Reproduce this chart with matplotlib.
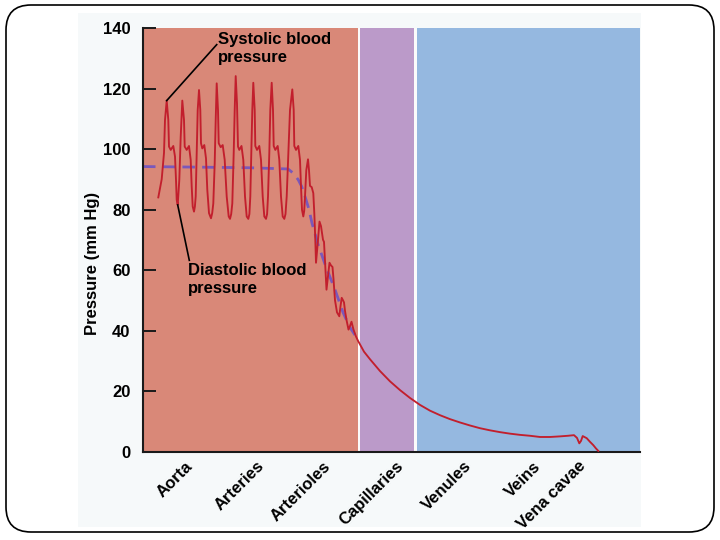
import matplotlib.pyplot as plt
from matplotlib.patches import FancyBboxPatch, Rectangle

plt.rcParams['font.family'] = ['Liberation Sans', 'DejaVu Sans']
plt.rcParams['font.weight'] = 'bold'

# Data
vessels = ['Aorta', 'Arteries', 'Arterioles', 'Capillaries', 'Venules', 'Veins', 'Vena cavae']
vessel_pos = [42, 113, 180, 253, 321, 390, 435]

# background zones along the vessel path (start, end)
zone_bounds = [(0, 215), (217, 271), (274, 497)]
zone_colors = ['#d98878', '#bb9ac9', '#95b8e0']

# pressure trace (mm Hg) along the path
trace_x = [15.3, 18.7, 21, 22, 23.7, 25.3, 26, 27.7, 30.3, 32, 33, 33.7, 34.7,
           36.3, 37.7, 39.3, 41, 41.7, 43.7, 46, 47.7, 48.7, 49.7, 51, 51.9,
           52.7, 53.7, 54.7, 56, 57.3, 58, 59.3, 61.3, 63, 64.3, 66, 68, 69.2,
           70.3, 71.7, 72.7, 73.7, 75, 75.7, 77.7, 79.7, 81.7, 83.7, 85.7, 87, 88.2,
           89.3, 90.7, 91.7, 92.7, 94, 95, 96.3, 98.5, 100.3, 102, 103.7, 105.3, 106.4,
           107.3, 108.3, 109.3, 110.3, 111.7, 112.3, 114, 116.3, 118, 119.7, 121.3, 123, 124.1,
           125, 126.3, 127.3, 128.7, 130, 130.7, 132.3, 134.7, 136.3, 138, 139.7, 141.3, 142.5,
           143.7, 145.3, 147, 149.3, 150.7, 151.3, 153, 155.3, 157, 158, 159, 160.3, 161.2,
           162, 163.3, 165, 166, 167, 168.7, 170.3, 171.3, 172.3, 173,
           174.5, 176.5, 178, 180, 181, 182, 183.5, 185, 186.5, 188, 189.5, 190.5,
           192, 194, 196.3, 197.5, 198.7, 200, 201, 202, 203.5, 205.5, 207, 208.5,
           210.5, 213,
           215, 221, 227, 237, 247, 257, 267, 277, 287, 297, 307, 317, 327, 337,
           347, 357, 367, 377, 387, 397, 407, 417, 425, 431, 434, 436.3, 438,
           439.7, 441.5, 443.7, 447, 450.3, 453, 455.3]
trace_y = [84, 90, 98.7, 109.6, 116, 109.6, 100.8, 99.7, 101, 97.5, 89.8, 83.2, 81.5,
           89.8, 104, 116, 109.6, 100.8, 99.7, 101, 96.4, 87.6, 81, 79.3, 81,
           84.3, 98.7, 112.9, 119.5, 112.9, 101.9, 100.2, 101.3, 96.9, 86.5, 78.8, 77.1, 78.8,
           82, 95.3, 109.6, 121.7, 112.9, 101.9, 100.6, 101.3, 96.4, 84.3, 77.7, 76.9, 78.5,
           82, 98.6, 112.9, 124.1, 115, 100.8, 99.7, 101, 96.4, 84.3, 77.7, 76.9, 78.5,
           84.3, 98.6, 112.9, 121.9, 112.9, 101, 99.7, 101, 96.4, 84.3, 77.7, 76.9, 78.5,
           84.3, 98.6, 112.9, 121.9, 112.9, 101, 99.7, 101, 96.4, 84.3, 77.7, 76.9, 78.5,
           84.3, 98.6, 112.9, 119.7, 112.9, 101, 99.7, 101, 96.4, 87.6, 79.9, 77.7, 79.5,
           84.3, 93, 96.6, 93, 87.8, 87.4, 85.4, 78.8, 70, 62.4,
           68, 76, 74.5, 70, 69.3, 63, 53.5, 58, 62.4, 61.5, 61, 57,
           50, 46, 44.7, 48, 50.8, 50, 49.3, 46.5, 43.5, 40.3, 41.5, 42.9,
           40.3, 38,
           36.6, 33, 30.5, 26.6, 23.2, 20.3, 17.7, 15.4, 13.5, 12, 10.7, 9.6, 8.6, 7.7,
           7, 6.4, 5.9, 5.5, 5.2, 4.8, 4.8, 5.0, 5.2, 5.4, 4.5, 2.7, 3.5,
           5.1, 4.8, 4.4, 3.2, 2.1, 1.0, 0.2]

# mean pressure (dashed)
mean_x = [0, 57, 107, 145, 150.3, 155.3, 158.7, 162, 166, 169, 175, 183, 192, 200, 207, 212]
mean_y = [94.2, 94.0, 93.8, 93.4, 92, 89.8, 87.6, 84.3, 80, 75.5, 68.5, 61, 53.5, 46, 41, 38.5]

yticks = [0, 20, 40, 60, 80, 100, 120, 140]

fig = plt.figure(figsize=(7.2, 5.4), dpi=100)
fig.patch.set_facecolor('white')

# slide frame
fig.patches.append(Rectangle((0.78, 0.13), 5.63, 5.14, transform=fig.dpi_scale_trans,
                             facecolor='#f6f9fa', edgecolor='none', zorder=-2))
fig.patches.append(FancyBboxPatch((0.06, 0.08), 7.08, 5.27,
                                  boxstyle='round,pad=0,rounding_size=0.25',
                                  transform=fig.dpi_scale_trans, facecolor='none',
                                  edgecolor='black', lw=1.2, zorder=-1))

ax = fig.add_axes([143/720, 1 - 451.5/540, 497/720, 423.5/540])
ax.set_zorder(2)
ax.set_facecolor('#fbfbfb')
ax.set_xlim(0, 497)
ax.set_ylim(0, 140)

for (x0, x1), c in zip(zone_bounds, zone_colors):
    ax.axvspan(x0, x1, color=c, lw=0, zorder=0)

ax.plot(mean_x, mean_y, color='#7a58bb', lw=2.0, dashes=(4.5, 2.6), zorder=2)
ax.plot(trace_x, trace_y, color='#c21f2d', lw=1.35, zorder=3)

# pointers to systolic peak / diastolic trough
ax.plot([trace_x[4], 73.7], [trace_y[4], 134.5], color='black', lw=1.2, zorder=4)
ax.text(75, 138.8, 'Systolic blood\npressure', ha='left', va='top', fontsize=12,
        fontweight='bold', linespacing=1.25)
ax.plot([trace_x[12], 46.3], [trace_y[12], 63.2], color='black', lw=1.2, zorder=4)
ax.text(45, 62.3, 'Diastolic blood\npressure', ha='left', va='top', fontsize=12,
        fontweight='bold', linespacing=1.25)

for s in ['top', 'right']:
    ax.spines[s].set_visible(False)
for s in ['left', 'bottom']:
    ax.spines[s].set_linewidth(1.5)
    ax.spines[s].set_color('#1a1a1a')

ax.set_yticks(yticks)
ax.tick_params(axis='y', direction='in', length=9.5, width=1.4, labelsize=12, pad=9,
               color='#1a1a1a')
ax.set_xticks(vessel_pos)
ax.set_xticklabels(vessels, rotation=45, ha='right', rotation_mode='anchor',
                   fontsize=12, fontweight='bold')
ax.tick_params(axis='x', length=0, pad=5)

ax.set_ylabel('Pressure (mm Hg)', fontsize=12, fontweight='bold')
ax.yaxis.set_label_coords(-0.087, 0.445)

plt.savefig('out.png', dpi=100)
